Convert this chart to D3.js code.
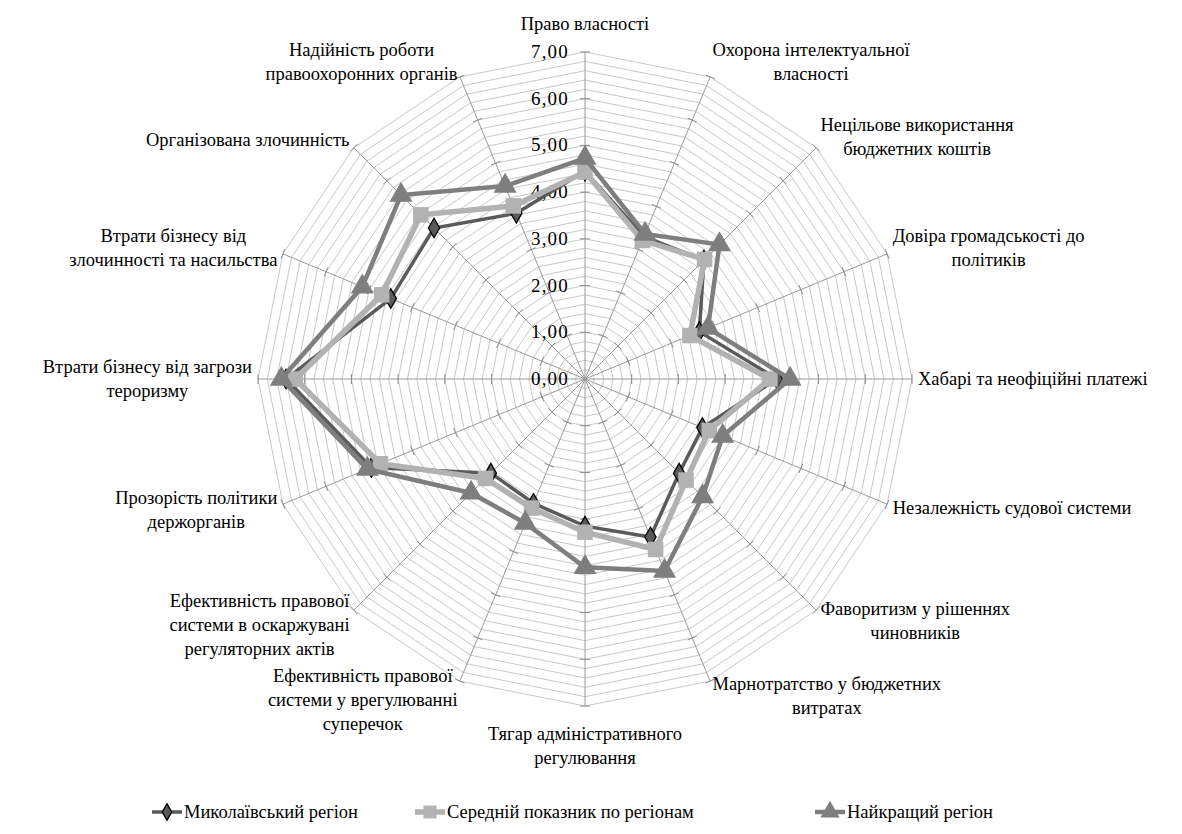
<!DOCTYPE html>
<html>
<head>
<meta charset="utf-8">
<script src="https://cdn.jsdelivr.net/npm/d3@7"></script>
</head>
<body style="margin:0">
<svg id="chart" width="1182" height="834"></svg>
<script>
const categories = [
  "Право власності",
  "Охорона інтелектуальної\nвласності",
  "Нецільове використання\nбюджетних коштів",
  "Довіра громадськості до\nполітиків",
  "Хабарі та неофіційні платежі",
  "Незалежність судової системи",
  "Фаворитизм у рішеннях\nчиновників",
  "Марнотратство у бюджетних\nвитратах",
  "Тягар адміністративного\nрегулювання",
  "Ефективність правової\nсистеми у врегулюванні\nсуперечок",
  "Ефективність правової\nсистеми в оскаржувані\nрегуляторних актів",
  "Прозорість політики\nдержорганів",
  "Втрати бізнесу від загрози\nтероризму",
  "Втрати бізнесу від\nзлочинності та насильства",
  "Організована злочинність",
  "Надійність роботи\nправоохоронних органів"
];
const seriesNames = ["Миколаївський регіон", "Середній показник по регіонам", "Найкращий регіон"];
const mykolaiv = [4.45, 3.30, 3.60, 2.65, 4.11, 2.72, 2.85, 3.66, 3.15, 2.88, 2.85, 4.95, 6.40, 4.50, 4.57, 3.84];
const average  = [4.43, 3.21, 3.62, 2.43, 3.96, 2.88, 3.06, 3.95, 3.28, 2.99, 3.01, 4.74, 6.20, 4.71, 4.97, 4.01];
const best     = [4.73, 3.36, 4.07, 2.85, 4.39, 3.19, 3.56, 4.45, 4.03, 3.34, 3.45, 5.04, 6.50, 5.16, 5.57, 4.47];
const tickValues = [0, 1, 2, 3, 4, 5, 6, 7];
const gridStep = 0.2;
const maxValue = 7;

const FAMILY = '"Liberation Serif", "Times New Roman", serif';
const svg = d3.select("#chart");
const cx = 585, cy = 379, R = 327;
const FONT = 18.5;

const r = d3.scaleLinear().domain([0, maxValue]).range([0, R]);
const angle = d3.scaleLinear().domain([0, categories.length]).range([0, 2 * Math.PI]);
const pt = (i, v) => [cx + r(v) * Math.sin(angle(i)), cy - r(v) * Math.cos(angle(i))];

const g = svg.append("g");

// grid rings
const gridLevels = d3.range(1, Math.round(maxValue / gridStep) + 1).map(k => +(k * gridStep).toFixed(2));
g.append("g").selectAll("path").data(gridLevels).join("path")
  .attr("d", lv => d3.line()(categories.map((c, i) => pt(i, lv))) + "Z")
  .attr("fill", "none").attr("stroke", "#c8c8c8").attr("stroke-width", 1);

// spokes
g.append("g").selectAll("line").data(categories).join("line")
  .attr("x1", cx).attr("y1", cy)
  .attr("x2", (c, i) => pt(i, maxValue)[0]).attr("y2", (c, i) => pt(i, maxValue)[1])
  .attr("stroke", "#9a9a9a").attr("stroke-width", 1);

// tick marks on spokes
const tickData = [];
categories.forEach((c, i) => tickValues.slice(1).forEach(t => tickData.push({ i, t })));
g.append("g").selectAll("line").data(tickData).join("line")
  .each(function (d) {
    const [x, y] = pt(d.i, d.t);
    const a = angle(d.i);
    const px = Math.cos(a) * 5, py = Math.sin(a) * 5;
    d3.select(this).attr("x1", x - px).attr("y1", y - py).attr("x2", x + px).attr("y2", y + py);
  })
  .attr("stroke", "#8a8a8a").attr("stroke-width", 1);

// value labels
const fmt = v => d3.format(".2f")(v).replace(".", ",");
g.append("g").selectAll("text").data(tickValues).join("text")
  .attr("font-size", 19).style("font-family", FAMILY)
  .attr("x", cx - 16).attr("y", v => cy - r(v) + 6)
  .attr("text-anchor", "end").attr("letter-spacing", 1.2)
  .text(fmt);

// category labels (block positioned without measuring first)
const LH = 24;
const labG = g.append("g");
const labelNodes = categories.map((c, i) => {
  const lines = c.split("\n");
  const t = labG.append("text").attr("font-size", FONT).style("font-family", FAMILY).attr("text-anchor", "middle");
  lines.forEach((ln, k) => t.append("tspan").attr("x", 0).attr("y", k * LH + 6).text(ln));
  return { t, lines, i };
});
function placeLabels(measure) {
  labelNodes.forEach(({ t, lines, i }) => {
    const a = angle(i);
    const s = Math.sin(a), co = Math.cos(a);
    const ax = cx + (R + 6) * s, ay = cy - (R + 6) * co;
    const w = measure
      ? d3.max(t.selectAll("tspan").nodes(), n => n.getComputedTextLength())
      : d3.max(lines, ln => ln.length) * FONT * 0.45;
    const h = lines.length * LH;
    let bx, by;
    if (Math.abs(s) < 0.2) {
      bx = ax;
      by = ay - co * (h / 2 + 10);
    } else {
      bx = ax + Math.sign(s) * w / 2;
      by = ay - co * h * 0.2;
    }
    const top = by - h / 2;
    t.attr("transform", `translate(${bx},${top + LH / 2})`);
  });
}
placeLabels(false);

// series
const series = [
  { name: seriesNames[0], values: mykolaiv, color: "#5a5a5a", width: 3.5, shape: d3.symbolDiamond, size: 110, stroke: "#000", sw: 1.3 },
  { name: seriesNames[1], values: average, color: "#b2b2b2", width: 5.5, shape: d3.symbolSquare, size: 240, stroke: "#b2b2b2", sw: 0 },
  { name: seriesNames[2], values: best, color: "#7e7e7e", width: 4.5, shape: d3.symbolTriangle, size: 230, stroke: "#7e7e7e", sw: 0 }
];
const lineGen = d3.line();
series.forEach(sr => {
  const sg = g.append("g");
  sg.append("path")
    .attr("d", lineGen(sr.values.map((v, i) => pt(i, v))) + "Z")
    .attr("fill", "none").attr("stroke", sr.color).attr("stroke-width", sr.width)
    .attr("stroke-linejoin", "miter");
  sg.selectAll("path.m").data(sr.values).join("path").attr("class", "m")
    .attr("d", d3.symbol().type(sr.shape).size(sr.size))
    .attr("transform", (v, i) => `translate(${pt(i, v)})`)
    .attr("fill", sr.color).attr("stroke", sr.stroke).attr("stroke-width", sr.sw);
});

// legend
const legendX = [152, 415, 815];
const legendY = 812;
const lg = svg.append("g");
series.forEach((sr, k) => {
  const x0 = legendX[k];
  lg.append("line").attr("x1", x0).attr("x2", x0 + 30).attr("y1", legendY).attr("y2", legendY)
    .attr("stroke", sr.color).attr("stroke-width", sr.width);
  lg.append("path").attr("d", d3.symbol().type(sr.shape).size(sr.size * 0.7)())
    .attr("transform", `translate(${x0 + 15},${legendY})`)
    .attr("fill", sr.color).attr("stroke", sr.stroke).attr("stroke-width", sr.sw);
  lg.append("text").attr("font-size", FONT).style("font-family", FAMILY)
    .attr("x", x0 + 32).attr("y", legendY + 6).text(sr.name);
});

// refine label positions once fonts are ready
if (document.fonts && document.fonts.load) {
  document.fonts.load(`${FONT}px "Liberation Serif"`, "Право").then(() => placeLabels(true)).catch(() => {});
}
</script>
</body>
</html>
